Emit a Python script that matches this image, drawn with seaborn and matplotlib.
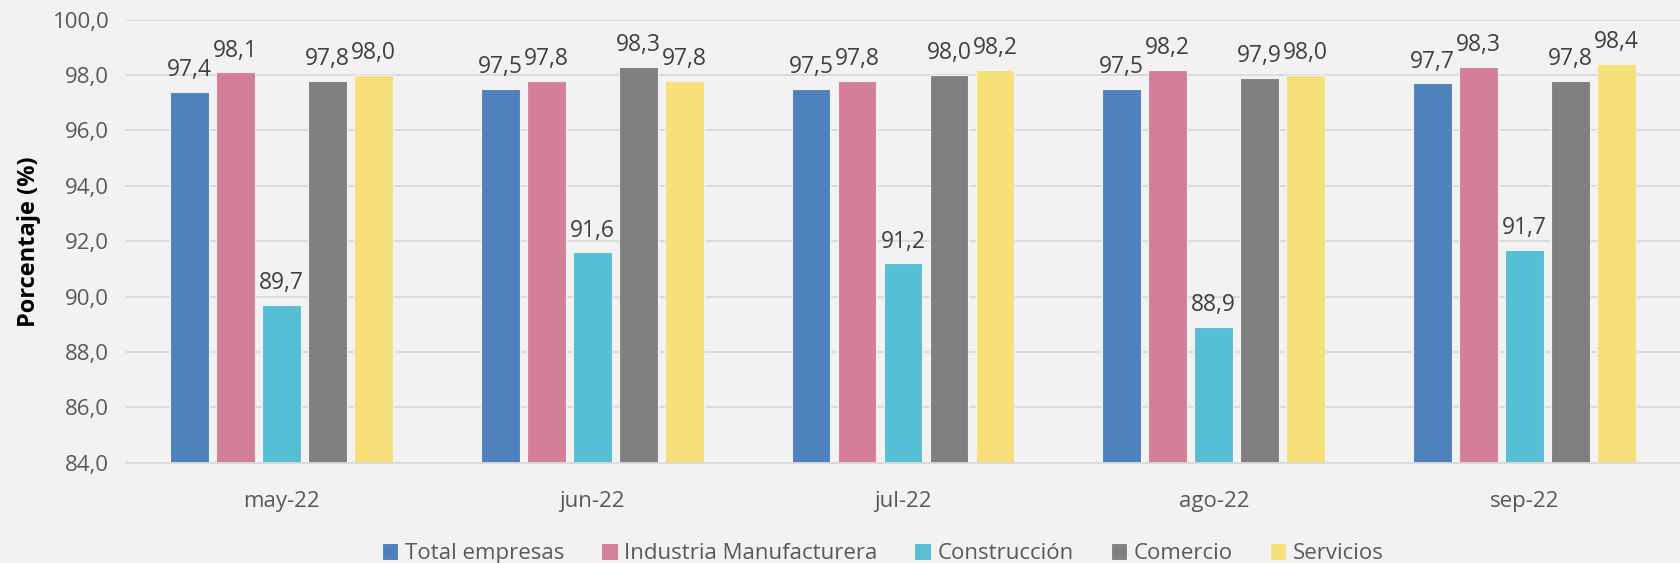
import pandas as pd
import numpy as np
import matplotlib.pyplot as plt
import seaborn as sns
from matplotlib.ticker import FuncFormatter, FixedLocator

# Data
meses = ['may-22', 'jun-22', 'jul-22', 'ago-22', 'sep-22']
sectores = ['Total empresas', 'Industria Manufacturera', 'Construcción', 'Comercio', 'Servicios']
total = [97.4, 97.5, 97.5, 97.5, 97.7]
industria = [98.1, 97.8, 97.8, 98.2, 98.3]
construccion = [89.7, 91.6, 91.2, 88.9, 91.7]
comercio = [97.8, 98.3, 98.0, 97.9, 97.8]
servicios = [98.0, 97.8, 98.2, 98.0, 98.4]

colores = ['#4F81BD', '#D47F98', '#56BFD6', '#808080', '#F7E07A']

df = pd.DataFrame({'mes': meses * 5,
                   'sector': np.repeat(sectores, len(meses)),
                   'valor': total + industria + construccion + comercio + servicios})

sns.set_style('white')
plt.rcParams['font.family'] = ['Open Sans', 'DejaVu Sans']
texto = '#595959'

fig, ax = plt.subplots(figsize=(16.8, 5.63), dpi=100)
fig.patch.set_facecolor('#F2F2F2')
ax.set_facecolor('#F2F2F2')

sns.barplot(data=df, x='mes', y='valor', hue='sector', palette=colores, saturation=1,
            width=0.74, gap=0.16, edgecolor='#F2F2F2', linewidth=0.8, ax=ax)

ax.set_ylim(84, 100)
ax.set_yticks(np.arange(84, 100.1, 2))
ax.yaxis.set_major_formatter(FuncFormatter(lambda v, p: f'{v:.1f}'.replace('.', ',')))
ax.grid(axis='y', color='#D9D9D9', linewidth=1.3)
ax.set_axisbelow(True)
ax.set_xlim(-0.5, 4.5)

# value labels above each bar
for c in ax.containers:
    ax.bar_label(c, labels=[f'{v:.1f}'.replace('.', ',') for v in c.datavalues],
                 padding=7, fontsize=16.5, color='#404040')

for s in ['top', 'right', 'left']:
    ax.spines[s].set_visible(False)
ax.spines['bottom'].set_color('#D9D9D9')
ax.spines['bottom'].set_linewidth(1.3)

# tick marks between categories
ax.xaxis.set_minor_locator(FixedLocator(np.arange(-0.5, 5, 1)))
ax.tick_params(axis='x', which='minor', length=9, color='#D9D9D9', width=1.3)
ax.tick_params(axis='x', which='major', length=0, pad=20, labelsize=16, labelcolor=texto)
ax.tick_params(axis='y', length=0, labelsize=16, labelcolor=texto, pad=12)

ax.set_xlabel('')
ax.set_ylabel('Porcentaje (%)', fontsize=17, fontweight='bold', color='black', labelpad=8)

h, l = ax.get_legend_handles_labels()
ax.legend(h, l, loc='center', bbox_to_anchor=(0.487, -0.205), ncol=5, frameon=False,
          fontsize=16, labelcolor=texto, handlelength=0.75, handleheight=0.75,
          handletextpad=0.3, columnspacing=1.65, borderpad=0)

fig.subplots_adjust(left=0.075, right=1.0, top=0.965, bottom=0.178)
fig.savefig('out.png', dpi=100, facecolor=fig.get_facecolor())
